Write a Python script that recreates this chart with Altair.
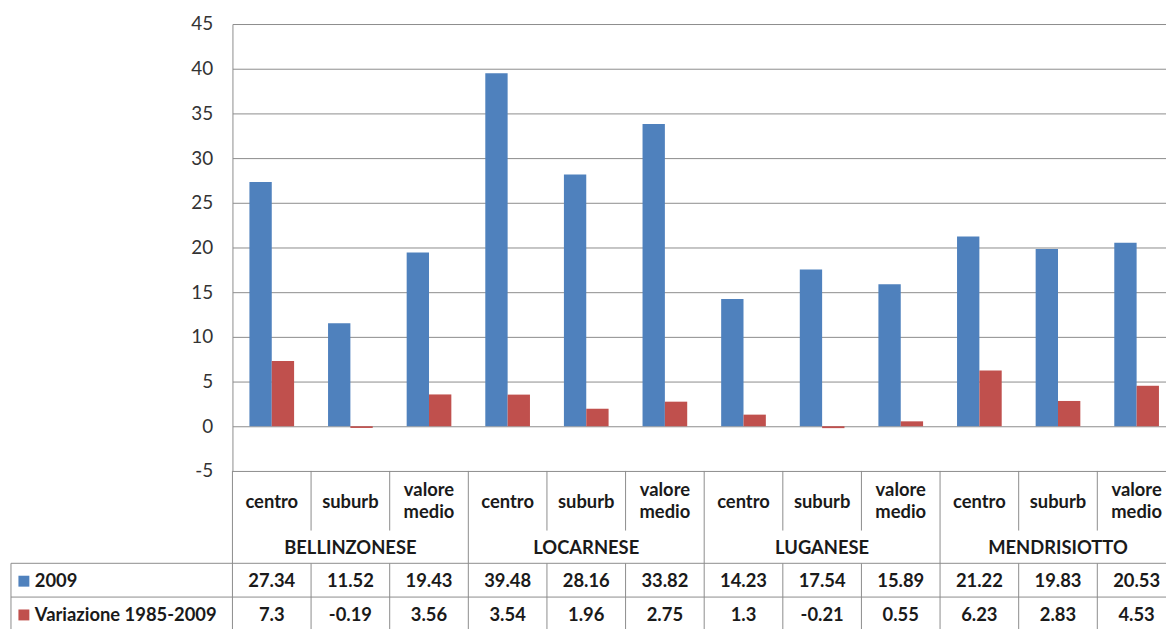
import altair as alt
import pandas as pd

groups = ["BELLINZONESE", "LOCARNESE", "LUGANESE", "MENDRISIOTTO"]
subs = ["centro", "suburb", "valore medio"]
series = ["2009", "Variazione 1985-2009"]
v2009 = [27.34, 11.52, 19.43, 39.48, 28.16, 33.82, 14.23, 17.54, 15.89, 21.22, 19.83, 20.53]
vvar = [7.3, -0.19, 3.56, 3.54, 1.96, 2.75, 1.3, -0.21, 0.55, 6.23, 2.83, 4.53]
yticks = [-5, 0, 5, 10, 15, 20, 25, 30, 35, 40, 45]
colors = ["#4F81BD", "#C0504D"]

FONT = "Lato"
FS = 18.5
GRID = "#8c8c8c"
TXT = "#1a1a1a"

cats, sub_of, grp_of = [], [], []
for g in groups:
    for s in subs:
        cats.append(f"{g}|{s}")
        sub_of.append(s)
        grp_of.append(g)

bars = pd.DataFrame(
    [{"cat": c, "series": series[0], "value": v} for c, v in zip(cats, v2009)]
    + [{"cat": c, "series": series[1], "value": v} for c, v in zip(cats, vvar)]
)

W, H = 950, 450
# table layout (pixels below the plot top)
ROW_CAT, ROW_CAT2, ROW_GRP, ROW_A, ROW_B = 481, 469, 528, 561, 595
L_A, L_B, L_C = 543, 577, 611
INNER_END = 510
LEFT = -223

xs = alt.Scale(domain=cats, paddingInner=0, paddingOuter=0)
X = alt.X("cat:N", scale=xs, axis=None)

bar_layer = alt.Chart(bars).mark_bar().encode(
    x=X,
    xOffset=alt.XOffset("series:N", scale=alt.Scale(domain=series, paddingOuter=0.76, paddingInner=0)),
    y=alt.Y(
        "value:Q",
        scale=alt.Scale(domain=[-5, 45], nice=False),
        axis=alt.Axis(
            values=yticks, grid=True, gridColor=GRID, domainColor=GRID, ticks=False,
            labelPadding=20, labelFont=FONT, labelFontSize=19, labelColor="#333333",
            labelExpr="'' + datum.value", title=None,
        ),
    ),
    color=alt.Color("series:N", scale=alt.Scale(domain=series, range=colors), legend=None),
)

catdf = pd.DataFrame({
    "cat": cats,
    "label": [s.replace(" ", "\n") for s in sub_of],
    "multi": [" " in s for s in sub_of],
    "first": [s == subs[0] for s in sub_of],
    "mid": [s == subs[1] for s in sub_of],
    "grp": grp_of,
    "a": [str(v) for v in v2009],
    "b": [str(v) for v in vvar],
})

txt = dict(font=FONT, fontSize=FS, fontWeight="bold", color=TXT, baseline="middle", align="center")

cat_text1 = alt.Chart(catdf).transform_filter("!datum.multi").mark_text(**txt).encode(
    x=X, y=alt.value(ROW_CAT), text="label:N")
cat_text2 = alt.Chart(catdf).transform_filter("datum.multi").mark_text(
    lineBreak="\n", lineHeight=22, **txt).encode(
    x=X, y=alt.value(ROW_CAT2), text="label:N")
grp_text = alt.Chart(catdf).transform_filter("datum.mid").mark_text(**txt).encode(
    x=X, y=alt.value(ROW_GRP), text="grp:N")
a_text = alt.Chart(catdf).mark_text(**txt).encode(x=X, y=alt.value(ROW_A), text="a:N")
b_text = alt.Chart(catdf).mark_text(**txt).encode(x=X, y=alt.value(ROW_B), text="b:N")

XB = alt.X("cat:N", scale=xs, axis=None, bandPosition=0)
vr_group = alt.Chart(catdf).transform_filter("datum.first").mark_rule(color=GRID).encode(
    x=XB, y=alt.value(H), y2=alt.value(L_C))
vr_inner_top = alt.Chart(catdf).transform_filter("!datum.first").mark_rule(color=GRID).encode(
    x=XB, y=alt.value(H), y2=alt.value(INNER_END))
vr_inner_bot = alt.Chart(catdf).transform_filter("!datum.first").mark_rule(color=GRID).encode(
    x=XB, y=alt.value(L_A), y2=alt.value(L_C))

hdf = pd.DataFrame({"row": ["a", "b", "c"]})
hrules = [
    alt.Chart(hdf).transform_filter(f"datum.row == '{r}'").mark_rule(color=GRID).encode(
        x=alt.value(LEFT), x2=alt.value(W), y=alt.value(yy))
    for r, yy in zip(["a", "b", "c"], [L_A, L_B, L_C])
]
left_border = alt.Chart(hdf).transform_filter("datum.row == 'a'").mark_rule(color=GRID).encode(
    x=alt.value(LEFT), y=alt.value(L_A), y2=alt.value(L_C))

legdf = pd.DataFrame({"series": series})
leg_sq_a = alt.Chart(legdf).transform_filter(f"datum.series == '{series[0]}'").mark_square(
    size=121, opacity=1, filled=True).encode(
    x=alt.value(LEFT + 13), y=alt.value(ROW_A), color=alt.value(colors[0]))
leg_sq_b = alt.Chart(legdf).transform_filter(f"datum.series == '{series[1]}'").mark_square(
    size=121, opacity=1, filled=True).encode(
    x=alt.value(LEFT + 13), y=alt.value(ROW_B), color=alt.value(colors[1]))
ltxt = dict(txt)
ltxt["align"] = "left"
leg_t_a = alt.Chart(legdf).transform_filter(f"datum.series == '{series[0]}'").mark_text(**ltxt).encode(
    x=alt.value(LEFT + 24), y=alt.value(ROW_A), text="series:N")
leg_t_b = alt.Chart(legdf).transform_filter(f"datum.series == '{series[1]}'").mark_text(**ltxt).encode(
    x=alt.value(LEFT + 24), y=alt.value(ROW_B), text="series:N")

chart = alt.layer(
    bar_layer, vr_group, vr_inner_top, vr_inner_bot, *hrules, left_border,
    cat_text1, cat_text2, grp_text, a_text, b_text, leg_sq_a, leg_sq_b, leg_t_a, leg_t_b,
).properties(
    width=W, height=H,
    autosize=alt.AutoSizeParams(type="none"),
    padding={"left": 226, "top": 14, "right": -10, "bottom": 157},
).configure_view(stroke=None)

chart.save("out.html", embed_options={"renderer": "svg", "actions": False})
